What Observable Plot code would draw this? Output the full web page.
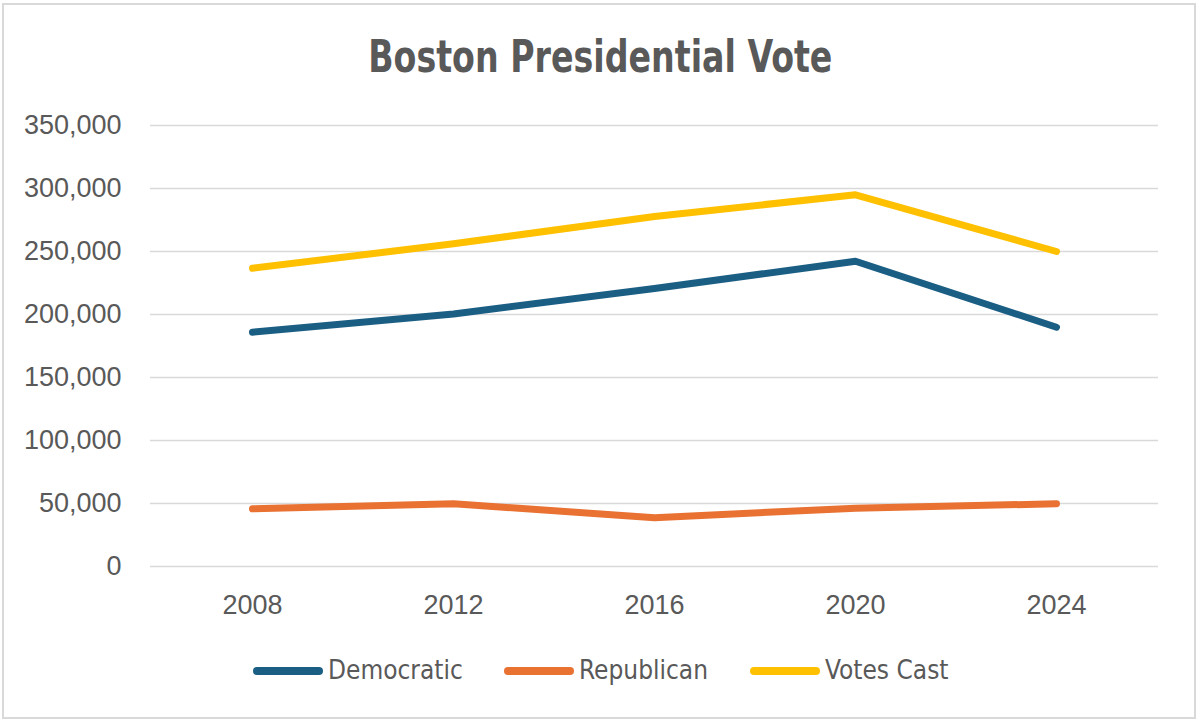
<!DOCTYPE html>
<html>
<head>
<meta charset="utf-8">
<script src="https://cdn.jsdelivr.net/npm/d3@7"></script>
<script src="https://cdn.jsdelivr.net/npm/@observablehq/plot@0.6"></script>
<style>
  html, body { margin: 0; padding: 0; background: #fff; }
  #frame { position: absolute; left: 2px; top: 3px; width: 1190px; height: 712px; border: 2px solid #d9d9d9; }
  #title { position: absolute; left: 0; top: 31px; width: 1200px; text-align: center;
    font-family: "DejaVu Sans Condensed", "Liberation Sans", sans-serif;
    font-weight: bold; font-size: 44px; color: #595959; }
  #title span { display: inline-block; transform: scaleX(0.84); transform-origin: center; white-space: nowrap; }
  #chart { position: absolute; left: 0; top: 100px; }
  #legend { position: absolute; left: 0; top: 654px; width: 1200px; height: 32px;
    font-family: "DejaVu Sans Condensed", "Liberation Sans", sans-serif;
    font-size: 26px; color: #595959; }
  .item { position: absolute; top: 0; display: flex; align-items: center; height: 32px; white-space: nowrap; }
  .sw { width: 70px; height: 8px; border-radius: 4px; margin-right: 5px; flex: none; position: relative; top: 1px; }
  .lbl { display: inline-block; }
</style>
</head>
<body>
<div id="frame"></div>
<div id="title"><span>Boston Presidential Vote</span></div>
<div id="chart"></div>
<div id="legend"></div>
<script>
const years = ["2008", "2012", "2016", "2020", "2024"];
const seriesNames = ["Democratic", "Republican", "Votes Cast"];
const democratic = [186000, 200400, 220600, 242300, 189900];
const republican = [45800, 49800, 38700, 46300, 49800];
const votesCast = [236700, 256100, 277800, 295000, 250000];
const colors = ["#1b5e84", "#e97132", "#ffc000"];
const yTicks = [0, 50000, 100000, 150000, 200000, 250000, 300000, 350000];
const legendLeft = [253, 504, 750];

const values = [democratic, republican, votesCast];
const data = [];
seriesNames.forEach((s, i) => years.forEach((y, j) => data.push({series: s, year: y, value: values[i][j]})));

const fmt = d3.format(",");
const plot = Plot.plot({
  width: 1200,
  height: 530,
  marginLeft: 150,
  marginRight: 42,
  marginTop: 25,
  marginBottom: 64,
  style: { fontFamily: "'Liberation Sans', Arial, sans-serif", fontSize: "27px", color: "#595959", background: "transparent" },
  x: { type: "point", domain: years, padding: 0.5, label: null },
  y: { domain: [0, 350000], label: null },
  color: { domain: seriesNames, range: colors },
  marks: [
    Plot.ruleY(yTicks, { stroke: "#d9d9d9", strokeWidth: 1.5 }),
    Plot.axisY({ ticks: yTicks, tickFormat: fmt, tickSize: 0, tickPadding: 29, label: null, fill: "#595959" }),
    Plot.axisX({ tickSize: 0, tickPadding: 28, label: null, fill: "#595959" }),
    Plot.line(data, { x: "year", y: "value", z: "series", stroke: "series", strokeWidth: 7, strokeLinecap: "round", strokeLinejoin: "round" })
  ]
});
document.getElementById("chart").appendChild(plot);

const legend = document.getElementById("legend");
seriesNames.forEach((s, i) => {
  const item = document.createElement("div");
  item.className = "item";
  item.style.left = legendLeft[i] + "px";
  const sw = document.createElement("div");
  sw.className = "sw";
  sw.style.background = colors[i];
  const t = document.createElement("span");
  t.className = "lbl";
  t.textContent = s;
  item.appendChild(sw);
  item.appendChild(t);
  legend.appendChild(item);
});
</script>
</body>
</html>
